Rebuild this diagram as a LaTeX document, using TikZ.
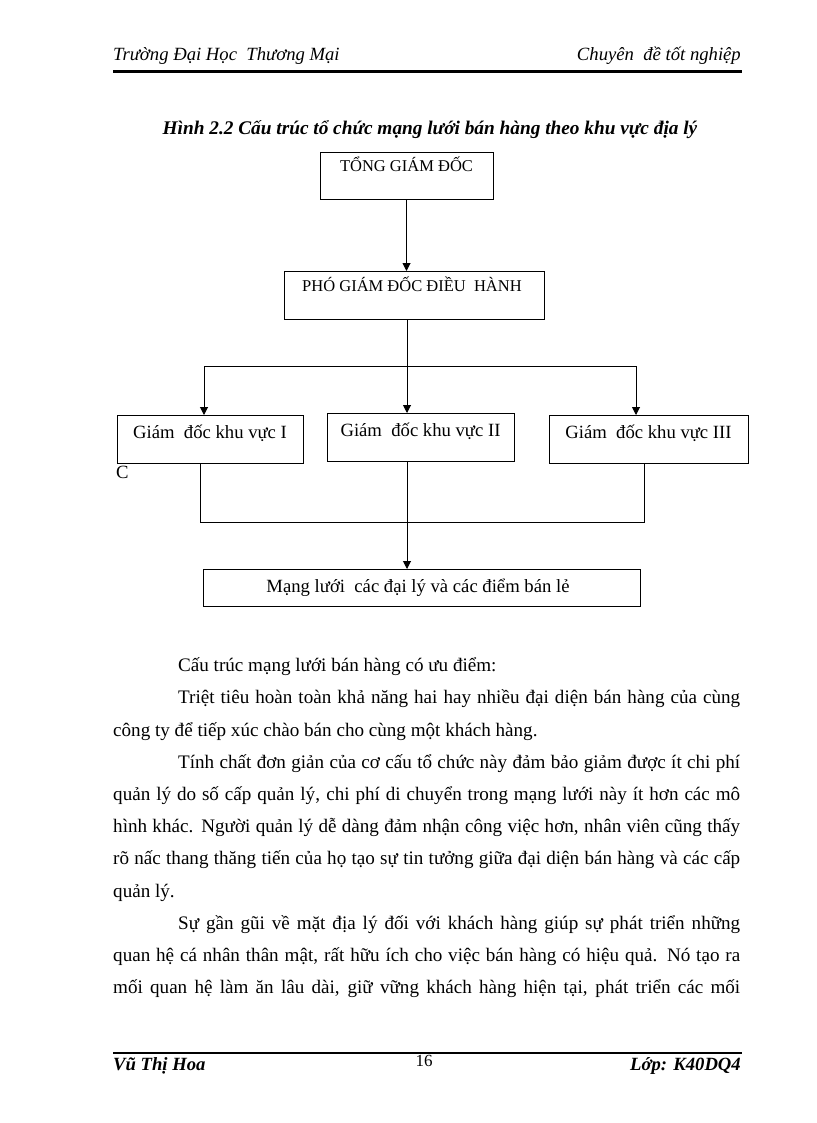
\documentclass[tikz,border=0pt]{standalone}
\usepackage{fontspec}
\setmainfont{Liberation Serif}
\usetikzlibrary{arrows.meta}
\begin{document}
\begin{tikzpicture}[x=1pt,y=-1pt,
  box/.style={draw, line width=1pt, anchor=north west, inner sep=0pt},
  capstext/.style={anchor=base, inner sep=0pt, font=\fontsize{16.5}{20}\selectfont},
  lowtext/.style={anchor=base, inner sep=0pt, font=\fontsize{18.67}{22}\selectfont},
  body/.style={anchor=base west, inner sep=0pt, font=\fontsize{19.1}{22}\selectfont},
  hdr/.style={inner sep=0pt, font=\fontsize{18.67}{22}\selectfont\itshape},
  ftr/.style={inner sep=0pt, font=\fontsize{18.67}{22}\selectfont\bfseries\itshape},
  conn/.style={line width=1pt},
  arr/.style={line width=1pt, -{Triangle[length=8pt,width=8pt]}}]
\useasboundingbox (0,0) rectangle (816,1123);
\fill[white] (0,0) rectangle (816,1123);

% header
\node[hdr, anchor=base west] (h1) at (113,61) {Trường Đại Học\ \ Thương Mại};
\node[hdr, anchor=base east] (h2) at (741,61) {Chuyên\ \ đề tốt nghiệp};
\draw[line width=2.5pt] (113,71.5) -- (742,71.5);

% title
\node[anchor=base, inner sep=0pt, font=\fontsize{19.3}{22}\selectfont\bfseries\itshape] (title) at (430,135)
  {Hình 2.2 Cấu trúc tổ chức mạng lưới bán hàng theo khu vực địa lý};

% boxes
\node[box, minimum width=173pt, minimum height=47pt] (tgd) at (320,152) {};
\node[capstext] (tgdt) at (406.5,172) {TỔNG GIÁM ĐỐC};

\node[box, minimum width=260pt, minimum height=48pt] (pgd) at (284,271) {};
\node[capstext] (pgdt) at (412,291.5) {PHÓ GIÁM ĐỐC ĐIỀU\ \ HÀNH};

\node[box, minimum width=186pt, minimum height=48pt] (kv1) at (117,415) {};
\node[lowtext] (kv1t) at (210,438) {Giám\ \ đốc khu vực I};
\node[box, minimum width=187pt, minimum height=48pt] (kv2) at (327,413) {};
\node[lowtext] (kv2t) at (420.5,436.5) {Giám\ \ đốc khu vực II};
\node[box, minimum width=199pt, minimum height=48pt] (kv3) at (549,415) {};
\node[lowtext] (kv3t) at (648.5,438) {Giám\ \ đốc khu vực III};

\node[lowtext, anchor=base west] (cc) at (116,478) {C};

\node[box, minimum width=437pt, minimum height=37pt] (ml) at (203,569) {};
\node[lowtext] (mlt) at (418,592.5) {Mạng lưới\ \ các đại lý và các điểm bán lẻ};

% connectors
\coordinate (a1) at (406.5,0);
\draw[arr] (tgd.south -| a1) -- (pgd.north -| a1);

\coordinate (hL) at (204,366);
\coordinate (hM) at (407,366);
\coordinate (hR) at (636,366);
\draw[conn] (hL) -- (hR);
\draw[arr] (hL) -- (hL |- kv1.north);
\draw[arr] (hR) -- (hR |- kv3.north);
\draw[arr] (pgd.south -| hM) -- (hM |- kv2.north);

\coordinate (bL) at (200,522);
\coordinate (bM) at (407,522);
\coordinate (bR) at (644,522);
\draw[conn] (kv1.south -| bL) -- (bL) -- (bR) -- (kv3.south -| bR);
\draw[arr] (kv2.south -| bM) -- (bM |- ml.north);

% body text
\node[body] (p1) at (178,671) {Cấu trúc mạng lưới bán hàng có ưu điểm:};
\node[body] (p2) at (178,703.5) {\makebox[562pt][s]{Triệt tiêu hoàn toàn khả năng hai hay nhiều đại diện bán hàng của cùng}};
\node[body] (p3) at (113,736) {công ty để tiếp xúc chào bán cho cùng một khách hàng.};
\node[body] (p4) at (178,768) {\makebox[562pt][s]{Tính chất đơn giản của cơ cấu tổ chức này đảm bảo giảm được ít chi phí}};
\node[body] (p5) at (113,800) {\makebox[627pt][s]{quản lý do số cấp quản lý, chi phí di chuyển trong mạng lưới này ít hơn các mô}};
\node[body] (p6) at (113,832) {\makebox[627pt][s]{hình khác. Người quản lý dễ dàng đảm nhận công việc hơn, nhân viên cũng thấy}};
\node[body] (p7) at (113,864.5) {\makebox[627pt][s]{rõ nấc thang thăng tiến của họ tạo sự tin tưởng giữa đại diện bán hàng và các cấp}};
\node[body] (p8) at (113,897) {quản lý.};
\node[body] (p9) at (178,929) {\makebox[562pt][s]{Sự gần gũi về mặt địa lý đối với khách hàng giúp sự phát triển những}};
\node[body] (p10) at (113,961) {\makebox[627pt][s]{quan hệ cá nhân thân mật, rất hữu ích cho việc bán hàng có hiệu quả. Nó tạo ra}};
\node[body] (p11) at (113,993) {\makebox[627pt][s]{mối quan hệ làm ăn lâu dài, giữ vững khách hàng hiện tại, phát triển các mối}};

% footer
\draw[line width=2.5pt] (113,1053) -- (742,1053);
\node[ftr, anchor=base west] (f1) at (113,1070) {Vũ Thị Hoa};
\node[inner sep=0pt, anchor=base, font=\fontsize{17}{20}\selectfont] (f2) at (424,1066) {16};
\node[ftr, anchor=base east] (f3) at (741,1070) {Lớp: K40DQ4};
\end{tikzpicture}
\end{document}
